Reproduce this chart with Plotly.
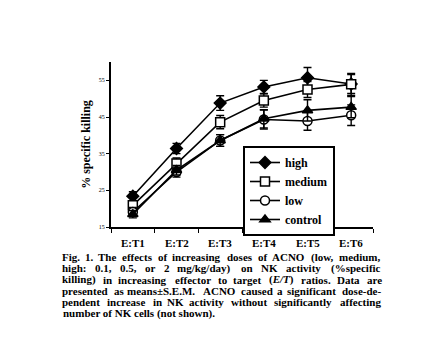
import plotly.graph_objects as go

# E/T ratio categories
ratios = ["E:T1", "E:T2", "E:T3", "E:T4", "E:T5", "E:T6"]

# % specific killing (mean) per dose group
high = [23.4, 36.4, 48.8, 53.2, 55.7, 54.0]
medium = [20.9, 32.3, 43.6, 49.5, 52.5, 53.9]
low = [19.1, 30.0, 38.6, 44.3, 43.9, 45.5]
control = [18.5, 30.5, 38.6, 44.5, 46.8, 47.7]

# S.E.M. per dose group
high_sem = [1.2, 1.4, 2.0, 1.8, 2.8, 2.6]
medium_sem = [1.3, 1.5, 1.8, 1.8, 2.2, 3.0]
low_sem = [1.2, 1.4, 1.6, 2.6, 2.5, 2.8]
control_sem = [1.0, 1.3, 1.6, 2.5, 2.9, 2.9]

y_ticks = [15, 25, 35, 45, 55]

caption_lines = [
    "Fig. 1. The effects of increasing doses of ACNO (low, medium,",
    "high: 0.1, 0.5, or 2 mg/kg/day) on NK activity (%specific",
    "killing) in increasing effector to target (E/T) ratios. Data are",
    "presented as means\u00b1S.E.M. ACNO caused a significant dose-de-",
    "pendent increase in NK activity without significantly affecting",
    "number of NK cells (not shown).",
]

FONT = "Liberation Serif"
W, H = 440, 348
ML, MR, MT, MB = 111, 67, 62, 121
PW, PH = W - ML - MR, H - MT - MB

series = [
    ("high", high, high_sem, "diamond", "black"),
    ("medium", medium, medium_sem, "square", "white"),
    ("low", low, low_sem, "circle", "white"),
    ("control", control, control_sem, "triangle-up", "black"),
]

fig = go.Figure()
for name, vals, sem, sym, fill in series:
    fig.add_trace(go.Scatter(
        x=ratios, y=vals, name=name, mode="lines+markers",
        line=dict(color="black", width=1.6),
        marker=dict(symbol=sym, size=9, color=fill,
                    line=dict(color="black", width=1.5)),
        error_y=dict(type="data", array=sem, color="black",
                     thickness=1.4, width=4),
    ))

fig.update_layout(
    width=W, height=H,
    margin=dict(l=ML, r=MR, t=MT, b=MB),
    paper_bgcolor="white", plot_bgcolor="white",
    font=dict(family=FONT, color="black"),
    showlegend=True,
    legend=dict(
        x=(243 - ML) / PW, y=(H - MB - 146) / PH,
        xanchor="left", yanchor="top",
        bordercolor="black", borderwidth=2, bgcolor="white",
        font=dict(family=FONT, size=12, color="black", weight="bold"),
        tracegroupgap=0, itemwidth=30,
    ),
)

fig.update_xaxes(
    range=[-0.5, 5.5], showline=True, linecolor="black", linewidth=2,
    ticks="outside", ticklen=4, tickcolor="black",
    tickmode="array", tickvals=[i - 0.5 for i in range(len(ratios) + 1)],
    ticktext=[""] * (len(ratios) + 1),
    showgrid=False, zeroline=False,
)
for i, r in enumerate(ratios):
    fig.add_annotation(x=i, y=0, xref="x", yref="paper", yanchor="top",
                       yshift=-8, text="<b>" + r + "</b>", showarrow=False,
                       font=dict(family=FONT, size=11, color="black"))

fig.update_yaxes(
    range=[15, 60], showline=True, linecolor="black", linewidth=2,
    ticks="outside", ticklen=3, tickcolor="black",
    tickvals=y_ticks, tickfont=dict(family=FONT, size=6, color="black"),
    showgrid=False, zeroline=False,
    title=dict(text="<b>% specific killing</b>",
               font=dict(family=FONT, size=12, color="black"), standoff=6),
)

# Approximate advance widths (per 1000 em) of a bold Times-style face,
# used to spread words across a justified caption line.
_widths = {
    " ": 250, "a": 500, "b": 556, "c": 444, "d": 556, "e": 444, "f": 333,
    "g": 500, "h": 556, "i": 278, "j": 333, "k": 556, "l": 278, "m": 833,
    "n": 556, "o": 500, "p": 556, "q": 556, "r": 444, "s": 389, "t": 333,
    "u": 556, "v": 500, "w": 722, "x": 500, "y": 500, "z": 444,
    "A": 722, "C": 722, "D": 722, "E": 667, "F": 611, "K": 778, "M": 944,
    "N": 722, "O": 778, "S": 556, "T": 667, ".": 250, ",": 250, ":": 333,
    "(": 333, ")": 333, "/": 278, "-": 333, "%": 1000, "\u00b1": 570,
}


def text_width(s, size):
    return sum(_widths.get(c, 500) for c in s) * size / 1000 * 1.06


CAP_SIZE = 11
CAP_LEFT, CAP_RIGHT = 62, 383
CAP_TOP, CAP_STEP = 257, 11.3


def styled(word):
    w = "<b>" + word + "</b>"
    return w.replace("E/T", "<i>E/T</i>")


for k, line in enumerate(caption_lines):
    ypx = CAP_TOP + k * CAP_STEP
    yp = (H - MB - ypx) / PH
    words = line.split(" ")
    last = k == len(caption_lines) - 1
    if last:
        fig.add_annotation(x=(CAP_LEFT - ML) / PW, y=yp, xref="paper",
                           yref="paper", text=styled(line), showarrow=False,
                           xanchor="left", yanchor="middle", borderpad=0,
                           font=dict(family=FONT, size=CAP_SIZE))
        continue
    widths = [text_width(w, CAP_SIZE) for w in words]
    gap = (CAP_RIGHT - CAP_LEFT - sum(widths)) / (len(words) - 1)
    xpx = CAP_LEFT
    for w, wd in zip(words, widths):
        fig.add_annotation(x=(xpx - ML) / PW, y=yp, xref="paper",
                           yref="paper", text=styled(w), showarrow=False,
                           xanchor="left", yanchor="middle",
                           borderpad=0, borderwidth=0,
                           font=dict(family=FONT, size=CAP_SIZE))
        xpx += wd + gap

fig.write_html("out.html")
